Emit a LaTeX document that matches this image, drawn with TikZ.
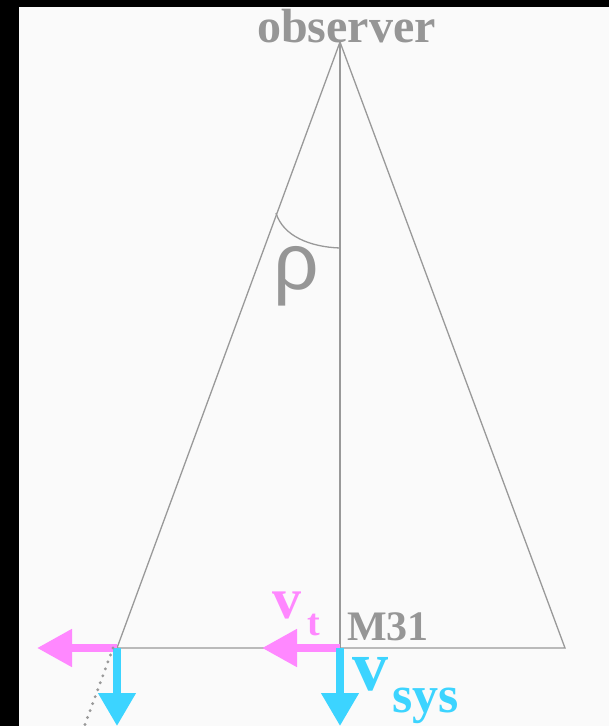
\documentclass[tikz,border=0pt]{standalone}
\usepackage{fontspec}
\setmainfont{Liberation Serif}
\newfontfamily\rhofont{Liberation Sans}
\usetikzlibrary{arrows.meta}
\definecolor{bgcol}{RGB}{250,250,250}
\definecolor{linegray}{RGB}{153,153,153}
\definecolor{textgray}{RGB}{150,150,150}
\definecolor{vmag}{RGB}{255,136,255}
\definecolor{vcyan}{RGB}{60,212,255}
\tikzset{
  geo/.style={draw=linegray, line width=1.3pt},
  lbl/.style={inner sep=0pt, outer sep=0pt},
  magarrow/.style={draw=vmag, line width=8pt, -{Triangle[length=35pt,width=36pt]}},
  cyanarrow/.style={draw=vcyan, line width=7.5pt, -{Triangle[length=33pt,width=36pt]}},
  dotline/.style={draw=linegray, line width=3.2pt, line cap=round, dash pattern=on 0pt off 7.4pt},
}
\begin{document}
\begin{tikzpicture}[x=1pt,y=-1pt]
\useasboundingbox (0,0) rectangle (609,726);
\fill[black] (0,0) rectangle (609,726);
\fill[bgcol] (19,7) rectangle (609,726);
% geometry
\coordinate (obs) at (340,42);
\coordinate (L) at (117,648);
\coordinate (R) at (565,648);
\coordinate (M) at (340,648);
\coordinate (arcA) at (276,213);
\coordinate (arcB) at (340,248);
\coordinate (vtend) at (262,648);
\coordinate (vlend) at (37,648);
\coordinate (vsend) at (340,726);
\coordinate (vslend) at (117,726);
\coordinate (dotA) at (113,648);
\coordinate (dotB) at (83,730);
\draw[geo] (L) -- (obs) -- (R) -- cycle;
\draw[geo] (obs) -- (M);
\draw[geo] (arcA) .. controls (283,236) and (310,247) .. (arcB);
% labels
\node[lbl, anchor=base, text=textgray, font=\bfseries\fontsize{48}{48}\selectfont] (obslbl) at (346.5,42) {observer};
\node[lbl, anchor=base west, text=textgray, font=\rhofont\fontsize{80}{80}\selectfont] (rholbl) at (273.5,289) {ρ};
\node[lbl, anchor=base west, text=textgray, font=\bfseries\fontsize{42}{42}\selectfont] (m31) at (347,640) {M31};
% arrows
\draw[magarrow] (L) -- (vlend);
\draw[magarrow] (M) -- (vtend);
\draw[cyanarrow] (L) -- (vslend);
\draw[cyanarrow] (M) -- (vsend);
\draw[dotline] (dotA) -- (dotB);
% velocity labels
\node[lbl, anchor=base west, text=vmag, font=\bfseries\fontsize{58}{58}\selectfont] (vt) at (272,618) {v};
\node[lbl, anchor=base west, text=vmag, font=\bfseries\fontsize{38}{38}\selectfont] (vtsub) at (307.5,635) {t};
\node[lbl, anchor=base west, text=vcyan, text height=33pt, font=\bfseries\fontsize{72}{72}\selectfont] (vs) at (352,690) {v};
\node[lbl, anchor=base west, text=vcyan, font=\bfseries\fontsize{52}{52}\selectfont] (vssub) at (392.5,712) {sys};
\end{tikzpicture}
\end{document}
